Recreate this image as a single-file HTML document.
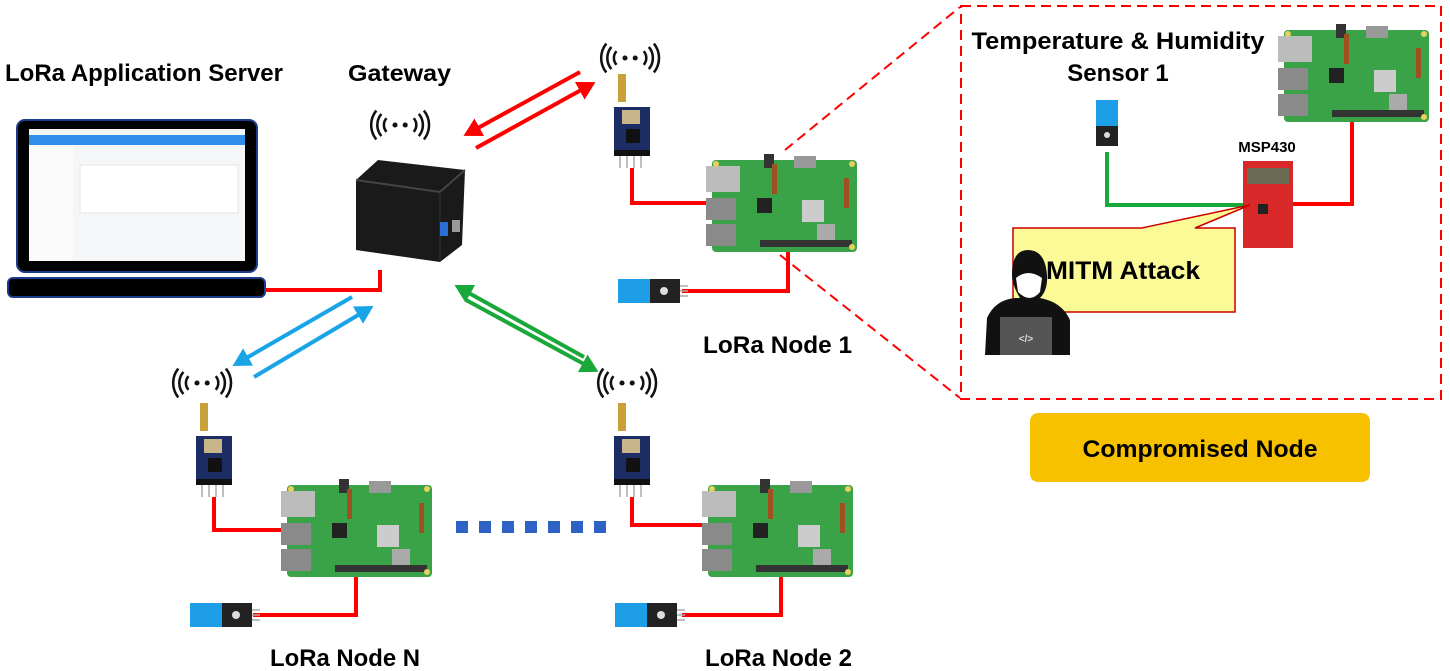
<!DOCTYPE html>
<html><head><meta charset="utf-8"><style>
html,body{margin:0;padding:0;background:#fff;}
svg{display:block;}
text{font-family:"Liberation Sans",sans-serif;font-weight:bold;}
</style></head><body>
<svg width="1450" height="671" viewBox="0 0 1450 671" xmlns="http://www.w3.org/2000/svg">
<defs>
<marker id="ar" markerWidth="5" markerHeight="5" refX="3.5" refY="2.5" orient="auto" markerUnits="strokeWidth"><path d="M0,0 L4.5,2.5 L0,5 Z" fill="#f00"/></marker>
<marker id="ag" markerWidth="5" markerHeight="5" refX="3.5" refY="2.5" orient="auto" markerUnits="strokeWidth"><path d="M0,0 L4.5,2.5 L0,5 Z" fill="#1aa83a"/></marker>
<marker id="ab" markerWidth="5" markerHeight="5" refX="3.5" refY="2.5" orient="auto" markerUnits="strokeWidth"><path d="M0,0 L4.5,2.5 L0,5 Z" fill="#1aa4e8"/></marker>
<g id="wifi0" fill="none" stroke="#111" stroke-width="3">
<circle cx="0" cy="0" r="3" fill="#111" stroke="none"/>
<path d="M-10,-8 A12,12 0 0 0 -10,8"/><path d="M-16,-13 A20,20 0 0 0 -16,13"/><path d="M-22,-17 A27,27 0 0 0 -22,17"/>
<circle cx="12" cy="0" r="3" fill="#111" stroke="none"/>
<path d="M22,-8 A12,12 0 0 1 22,8"/><path d="M28,-13 A20,20 0 0 1 28,13"/><path d="M34,-17 A27,27 0 0 1 34,17"/>
</g>
<g id="wifi"><use href="#wifi0" transform="translate(-5,0) scale(0.85)"/></g>
<g id="mod">
<rect x="4" y="0" width="8" height="28" fill="#c9a13a"/>
<rect x="0" y="33" width="36" height="48" fill="#1c2d66"/>
<rect x="8" y="36" width="18" height="14" fill="#c8b68a"/>
<rect x="12" y="55" width="14" height="14" fill="#111"/>
<rect x="0" y="76" width="36" height="6" fill="#111"/>
<g stroke="#aaa" stroke-width="1.5"><path d="M6,82v12M13,82v12M20,82v12M27,82v12"/></g>
</g>
<g id="pi">
<rect x="0" y="0" width="145" height="92" rx="4" fill="#3aa347"/>
<rect x="-6" y="6" width="34" height="26" fill="#bcbcbc"/>
<rect x="-6" y="38" width="30" height="22" fill="#8a8a8a"/>
<rect x="-6" y="64" width="30" height="22" fill="#8a8a8a"/>
<rect x="90" y="40" width="22" height="22" fill="#ccc"/>
<rect x="105" y="64" width="18" height="18" fill="#aaa"/>
<rect x="48" y="80" width="92" height="7" fill="#333"/>
<rect x="82" y="-4" width="22" height="12" fill="#999"/>
<rect x="52" y="-6" width="10" height="14" fill="#333"/>
<rect x="60" y="4" width="5" height="30" fill="#a05020"/>
<rect x="132" y="18" width="5" height="30" fill="#a05020"/>
<rect x="45" y="38" width="15" height="15" fill="#222"/>
<circle cx="4" cy="4" r="3" fill="#e8d060"/><circle cx="140" cy="4" r="3" fill="#e8d060"/><circle cx="140" cy="87" r="3" fill="#e8d060"/>
</g>
<g id="sens">
<rect x="0" y="0" width="32" height="24" fill="#1d9ee6"/>
<rect x="32" y="0" width="30" height="24" fill="#222"/>
<circle cx="46" cy="12" r="4" fill="#ddd"/>
<g stroke="#aaa" stroke-width="1.5"><path d="M62,7h8M62,12h8M62,17h8"/></g>
</g>
</defs>

<!-- labels -->
<text x="5" y="81" font-size="24" textLength="278" lengthAdjust="spacingAndGlyphs">LoRa Application Server</text>
<text x="348" y="81" font-size="23" textLength="103" lengthAdjust="spacingAndGlyphs">Gateway</text>

<!-- laptop -->
<rect x="17" y="120" width="240" height="152" rx="8" fill="#000" stroke="#1b3c8a" stroke-width="2"/>
<rect x="29" y="129" width="216" height="132" fill="#f4f6f8"/>
<rect x="29" y="135" width="216" height="10" fill="#2e8ee8"/>
<rect x="29" y="145" width="44" height="116" fill="#fbfbfb"/>
<rect x="80" y="165" width="158" height="48" fill="#fff" stroke="#e6e6e6"/>
<rect x="8" y="278" width="257" height="19" rx="5" fill="#000" stroke="#1b3c8a" stroke-width="2"/>
<polyline points="265,290 380,290 380,270" fill="none" stroke="#f00" stroke-width="4"/>

<!-- gateway -->
<use href="#wifi" x="400" y="125"/>
<path d="M356,180 L378,160 L465,170 L462,245 L440,262 L356,250 Z" fill="#1a1a1a"/>
<path d="M356,180 L440,192 L465,170" fill="none" stroke="#444" stroke-width="2"/>
<path d="M440,192 L440,262" stroke="#333" stroke-width="1"/>
<rect x="440" y="222" width="8" height="14" fill="#2a6fd6"/>
<rect x="452" y="220" width="8" height="12" fill="#999"/>

<!-- arrows -->
<line x1="580" y1="72" x2="467" y2="134" stroke="#f00" stroke-width="4" marker-end="url(#ar)"/>
<line x1="476" y1="148" x2="592" y2="84" stroke="#f00" stroke-width="4" marker-end="url(#ar)"/>
<line x1="584" y1="357" x2="458" y2="287" stroke="#1aa83a" stroke-width="4" marker-end="url(#ag)"/>
<line x1="466" y1="300" x2="595" y2="370" stroke="#1aa83a" stroke-width="4" marker-end="url(#ag)"/>
<line x1="352" y1="297" x2="236" y2="364" stroke="#1aa4e8" stroke-width="4" marker-end="url(#ab)"/>
<line x1="254" y1="377" x2="370" y2="308" stroke="#1aa4e8" stroke-width="4" marker-end="url(#ab)"/>

<!-- node 1 -->
<use href="#wifi" x="630" y="58"/>
<use href="#mod" x="614" y="74"/>
<polyline points="632,168 632,203 708,203" fill="none" stroke="#f00" stroke-width="4"/>
<use href="#pi" x="712" y="160"/>
<polyline points="788,252 788,291 682,291" fill="none" stroke="#f00" stroke-width="4"/>
<use href="#sens" x="618" y="279"/>
<text x="703" y="353" font-size="24" textLength="149" lengthAdjust="spacingAndGlyphs">LoRa Node 1</text>

<!-- node N -->
<use href="#wifi" x="202" y="383"/>
<use href="#mod" x="196" y="403"/>
<polyline points="214,497 214,530 288,530" fill="none" stroke="#f00" stroke-width="4"/>
<use href="#pi" x="287" y="485"/>
<polyline points="356,577 356,615 253,615" fill="none" stroke="#f00" stroke-width="4"/>
<use href="#sens" x="190" y="603"/>
<text x="270" y="666" font-size="24" textLength="150" lengthAdjust="spacingAndGlyphs">LoRa Node N</text>

<!-- node 2 -->
<use href="#wifi" x="627" y="383"/>
<use href="#mod" x="614" y="403"/>
<polyline points="632,497 632,525 707,525" fill="none" stroke="#f00" stroke-width="4"/>
<use href="#pi" x="708" y="485"/>
<polyline points="781,577 781,615 682,615" fill="none" stroke="#f00" stroke-width="4"/>
<use href="#sens" x="615" y="603"/>
<text x="705" y="666" font-size="24" textLength="147" lengthAdjust="spacingAndGlyphs">LoRa Node 2</text>

<!-- dots -->
<g fill="#2f62c4">
<rect x="456" y="521" width="12" height="12"/><rect x="479" y="521" width="12" height="12"/><rect x="502" y="521" width="12" height="12"/><rect x="525" y="521" width="12" height="12"/><rect x="548" y="521" width="12" height="12"/><rect x="571" y="521" width="12" height="12"/><rect x="594" y="521" width="12" height="12"/>
</g>

<!-- dashed zoom -->
<line x1="785" y1="150" x2="960" y2="7" stroke="#f00" stroke-width="2" stroke-dasharray="10,6"/>
<line x1="780" y1="255" x2="960" y2="398" stroke="#f00" stroke-width="2" stroke-dasharray="10,6"/>
<rect x="961" y="6" width="480" height="393" fill="#fff" stroke="#f00" stroke-width="2" stroke-dasharray="10,6"/>

<text x="1118" y="49" font-size="24" text-anchor="middle" textLength="293" lengthAdjust="spacingAndGlyphs">Temperature &amp; Humidity</text>
<text x="1118" y="81" font-size="24" text-anchor="middle">Sensor 1</text>
<use href="#pi" x="1284" y="30"/>
<rect x="1096" y="100" width="22" height="28" fill="#1d9ee6"/>
<rect x="1096" y="126" width="22" height="20" fill="#222"/>
<circle cx="1107" cy="135" r="3" fill="#ddd"/>
<polyline points="1107,152 1107,205 1245,205" fill="none" stroke="#1aa83a" stroke-width="4"/>
<polyline points="1352,122 1352,204 1290,204" fill="none" stroke="#f00" stroke-width="4"/>
<text x="1267" y="152" font-size="15" text-anchor="middle">MSP430</text>
<rect x="1243" y="161" width="50" height="87" fill="#d8282a"/>
<rect x="1247" y="168" width="42" height="16" fill="#6b6a55"/>
<rect x="1258" y="204" width="10" height="10" fill="#222"/>
<path d="M1013,228 L1142,228 L1250,205 L1195,228 L1235,228 L1235,312 L1013,312 Z" fill="#fbfa96" stroke="#c00" stroke-width="1.5"/>
<text x="1046" y="279" font-size="25" textLength="154" lengthAdjust="spacingAndGlyphs">MITM Attack</text>
<!-- hacker -->
<path d="M985,355 L987,318 Q995,300 1015,298 L1020,298 Q1012,285 1012,275 Q1012,250 1028,250 Q1045,250 1047,275 Q1048,290 1040,298 Q1062,302 1070,320 L1070,355 Z" fill="#111"/>
<path d="M1016,278 Q1028,268 1042,278 L1040,292 Q1030,304 1018,292 Z" fill="#fff"/>
<rect x="1000" y="317" width="52" height="38" fill="#555"/>
<text x="1026" y="342" font-size="10" fill="#ddd" text-anchor="middle">&lt;/&gt;</text>

<!-- compromised -->
<rect x="1030" y="413" width="340" height="69" rx="8" fill="#f8c100"/>
<text x="1200" y="457" font-size="24" text-anchor="middle" textLength="235" lengthAdjust="spacingAndGlyphs">Compromised Node</text>
</svg>
</body></html>
